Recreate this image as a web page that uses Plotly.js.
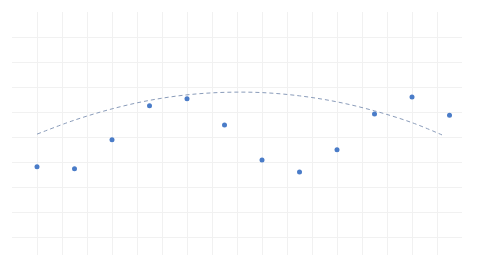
<!DOCTYPE html>
<html>
<head>
<meta charset="utf-8">
<script src="https://cdn.plot.ly/plotly-3.0.1.min.js"></script>
<style>html,body{margin:0;padding:0;background:#fff;}#chart{width:480px;height:270px;}</style>
</head>
<body>
<div id="chart"></div>
<script>
// Observed points
const pointX = [2, 5, 8, 11, 14, 17, 20, 23, 26, 29, 32, 35];
const pointY = [28.2, 27.4, 39.0, 52.5, 55.3, 44.9, 30.9, 26.1, 35.0, 49.3, 56.0, 48.8];
// Dashed trend curve
const trendX = [2, 5, 8, 11, 14, 17, 20, 23, 26, 29, 32, 34.4];
const trendY = [41.2, 46.8, 51.3, 54.7, 56.9, 57.9, 57.8, 56.5, 54.1, 50.5, 45.8, 40.9];

const traces = [
  {
    x: trendX, y: trendY, type: 'scatter', mode: 'lines',
    line: {color: '#8a9cba', width: 1, dash: '4px,3px', shape: 'spline'},
    hoverinfo: 'skip'
  },
  {
    x: pointX, y: pointY, type: 'scatter', mode: 'markers',
    marker: {color: '#4a7cc8', size: 5}
  }
];

const layout = {
  width: 480, height: 270,
  margin: {l: 12, r: 18, t: 12, b: 15, pad: 0},
  paper_bgcolor: '#ffffff', plot_bgcolor: '#ffffff',
  showlegend: false,
  xaxis: {range: [0, 36], dtick: 2, tick0: 0, showticklabels: false, ticks: '',
          showgrid: true, gridcolor: '#f1f1f1', gridwidth: 1, zeroline: false, showline: false},
  yaxis: {range: [-7.08, 90], dtick: 10, tick0: 0, showticklabels: false, ticks: '',
          showgrid: true, gridcolor: '#f1f1f1', gridwidth: 1, zeroline: false, showline: false}
};

Plotly.newPlot('chart', traces, layout, {displayModeBar: false, staticPlot: true});
</script>
</body>
</html>
